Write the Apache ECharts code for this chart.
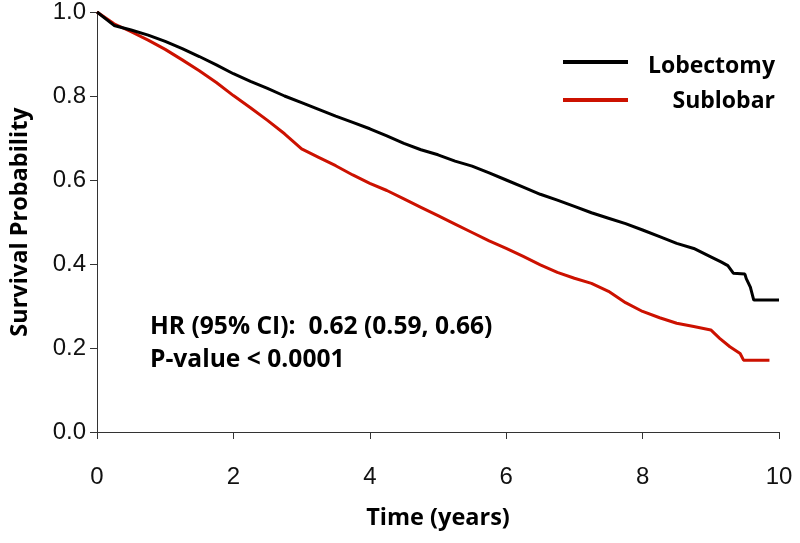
<!DOCTYPE html>
<html>
<head>
<meta charset="utf-8">
<script src="https://cdn.jsdelivr.net/npm/echarts@6/dist/echarts.min.js"></script>
<style>
html,body{margin:0;padding:0;background:#fff;}
#chart{width:800px;height:543px;}
</style>
</head>
<body>
<div id="chart"></div>
<script>
// Kaplan-Meier survival estimates
const lobTime = [0,0.25,0.5,0.75,1.0,1.25,1.5,1.75,2.0,2.25,2.5,2.75,3.0,3.25,3.5,3.75,4.0,4.25,4.5,4.75,5.0,5.25,5.5,5.75,6.0,6.25,6.5,6.75,7.0,7.25,7.5,7.75,8.0,8.25,8.5,8.75,9.0,9.15,9.25,9.33,9.5,9.52,9.58,9.63,10.0];
const lobSurv = [1.0,0.968,0.957,0.945,0.930,0.913,0.894,0.874,0.853,0.835,0.818,0.800,0.784,0.768,0.752,0.737,0.722,0.705,0.687,0.672,0.660,0.645,0.633,0.617,0.600,0.583,0.566,0.552,0.537,0.522,0.509,0.496,0.481,0.465,0.449,0.437,0.417,0.405,0.396,0.378,0.376,0.365,0.345,0.314,0.314];
const subTime = [0,0.25,0.5,0.75,1.0,1.25,1.5,1.75,2.0,2.25,2.5,2.75,3.0,3.25,3.5,3.75,4.0,4.25,4.5,4.75,5.0,5.25,5.5,5.75,6.0,6.25,6.5,6.75,7.0,7.25,7.5,7.75,8.0,8.25,8.5,8.75,9.0,9.13,9.28,9.43,9.48,9.86];
const subSurv = [1.0,0.972,0.953,0.933,0.911,0.886,0.860,0.832,0.801,0.772,0.742,0.710,0.674,0.654,0.634,0.612,0.592,0.575,0.555,0.535,0.515,0.495,0.475,0.455,0.437,0.418,0.398,0.380,0.366,0.354,0.335,0.308,0.287,0.272,0.259,0.251,0.243,0.223,0.203,0.187,0.171,0.171];
const seriesNames = ['Lobectomy','Sublobar'];
const annotation = ['HR (95% CI):  0.62 (0.59, 0.66)','P-value < 0.0001'];
const xTitle = 'Time (years)';
const yTitle = 'Survival Probability';

const pairs = (t, s) => t.map((v, i) => [v, s[i]]);
const chart = echarts.init(document.getElementById('chart'), null, {renderer:'canvas'});
const axisColor = '#333';
const redColor = '#cc1100';
const tickFont = {fontFamily:'Liberation Sans', fontSize:24, color:'#111'};
const boldFamily = '"Open Sans"';
const titleFont = {fontFamily:'Open Sans', fontWeight:'bold', fontSize:23.5, color:'#000'};
chart.setOption({
  animation:false,
  backgroundColor:'#fff',
  grid:{left:97, right:21, top:12, bottom:111},
  xAxis:{
    type:'value', min:0, max:10, interval:2, offset:18,
    name:xTitle, nameLocation:'middle', nameGap:56, nameTextStyle:titleFont,
    axisLine:{lineStyle:{color:axisColor, width:1}},
    axisTick:{length:7, lineStyle:{color:axisColor}},
    axisLabel:Object.assign({margin:15}, tickFont),
    splitLine:{show:false}
  },
  yAxis:{
    type:'value', min:0, max:1, interval:0.2,
    name:yTitle, nameLocation:'middle', nameGap:65, nameTextStyle:titleFont,
    axisLine:{show:true, lineStyle:{color:axisColor, width:1}},
    axisTick:{show:true, length:7, lineStyle:{color:axisColor}},
    axisLabel:Object.assign({margin:11, formatter:v=>v.toFixed(1)}, tickFont),
    splitLine:{show:false}
  },
  series:[
    {name:seriesNames[0], type:'line', data:pairs(lobTime, lobSurv), showSymbol:false, symbol:'none',
     lineStyle:{color:'#000', width:3}, z:3},
    {name:seriesNames[1], type:'line', data:pairs(subTime, subSurv), showSymbol:false, symbol:'none',
     lineStyle:{color:redColor, width:3}, z:2}
  ],
  graphic:[
    {type:'line', shape:{x1:563, y1:62, x2:628, y2:62}, style:{stroke:'#000', lineWidth:4}},
    {type:'line', shape:{x1:563, y1:100, x2:628, y2:100}, style:{stroke:redColor, lineWidth:4}},
    {type:'text', x:775, y:66, style:{text:seriesNames[0], fill:'#000', font:'bold 23px ' + boldFamily, textAlign:'right', textVerticalAlign:'middle'}},
    {type:'text', x:775, y:101, style:{text:seriesNames[1], fill:'#000', font:'bold 23px ' + boldFamily, textAlign:'right', textVerticalAlign:'middle'}},
    {type:'text', x:150, y:327, style:{text:annotation[0], fill:'#000', font:'bold 24.6px ' + boldFamily, textAlign:'left', textVerticalAlign:'middle'}},
    {type:'text', x:150, y:360, style:{text:annotation[1], fill:'#000', font:'bold 24.6px ' + boldFamily, textAlign:'left', textVerticalAlign:'middle'}}
  ]
});
</script>
</body>
</html>
